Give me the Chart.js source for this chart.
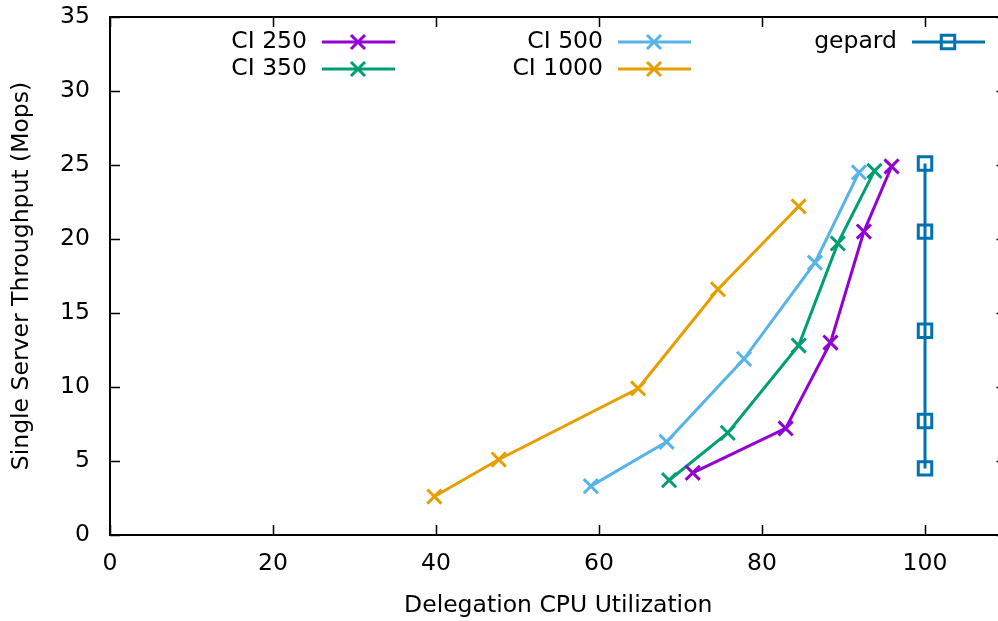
<!DOCTYPE html>
<html>
<head>
<meta charset="utf-8">
<script src="https://cdn.jsdelivr.net/npm/chart.js@4.4.0/dist/chart.umd.min.js"></script>
<style>
  html, body { margin: 0; padding: 0; overflow: hidden; background: #fff; }
  canvas { position: absolute; left: 0; top: 0; }
</style>
</head>
<body>
<canvas id="chart" width="1010" height="621"></canvas>
<script>
// data
const ci250X = [71.5, 82.9, 88.4, 92.5, 95.9];
const ci250Y = [4.2, 7.2, 13.0, 20.5, 24.9];
const ci350X = [68.6, 75.8, 84.5, 89.3, 93.8];
const ci350Y = [3.7, 6.9, 12.8, 19.7, 24.6];
const ci500X = [59.0, 68.3, 77.8, 86.5, 91.9];
const ci500Y = [3.3, 6.3, 11.9, 18.4, 24.5];
const ci1000X = [39.8, 47.7, 64.8, 74.6, 84.5];
const ci1000Y = [2.6, 5.1, 9.9, 16.6, 22.2];
const gepardX = [100, 100, 100, 100, 100];
const gepardY = [4.5, 7.7, 13.8, 20.5, 25.1];

const xTicks = [0, 20, 40, 60, 80, 100];
const yTicks = [0, 5, 10, 15, 20, 25, 30, 35];

const FONT = "'DejaVu Sans', sans-serif";
const FSIZE = 23.5;

function pts(xs, ys) {
  return xs.map((x, i) => ({ x: x, y: ys[i] }));
}

function series(label, xs, ys, color, style) {
  return {
    label: label,
    data: pts(xs, ys),
    borderColor: color,
    backgroundColor: "transparent",
    borderWidth: 3,
    pointStyle: style,
    pointRadius: style === "rect" ? 9.5 : 10,
    pointBorderWidth: 3,
    pointBorderColor: color,
    pointBackgroundColor: "transparent",
    tension: 0,
  };
}

// legend slots like the gnuplot key: [text right edge, row y]
const legendSlots = [
  [307, 42], [307, 69], [603, 42], [603, 69], [897, 42]
];

function drawMarker(ctx, style, x, y, color) {
  ctx.save();
  ctx.strokeStyle = color;
  ctx.lineWidth = 3;
  ctx.beginPath();
  if (style === "rect") {
    ctx.rect(x - 6.7, y - 6.7, 13.4, 13.4);
  } else {
    const d = 7;
    ctx.moveTo(x - d, y - d); ctx.lineTo(x + d, y + d);
    ctx.moveTo(x + d, y - d); ctx.lineTo(x - d, y + d);
  }
  ctx.stroke();
  ctx.restore();
}

const framePlugin = {
  id: "frame",
  afterDatasetsDraw(chart) {
    const ctx = chart.ctx;
    const a = chart.chartArea;
    const xs = chart.scales.x, ys = chart.scales.y;
    ctx.save();
    ctx.strokeStyle = "#000";
    ctx.lineWidth = 2;
    ctx.strokeRect(a.left, a.top, a.right - a.left, a.bottom - a.top);
    ctx.lineWidth = 1.5;
    ctx.beginPath();
    xTicks.forEach(v => {
      const px = Math.round(xs.getPixelForValue(v)) + 0.5;
      ctx.moveTo(px, a.bottom); ctx.lineTo(px, a.bottom - 10);
      ctx.moveTo(px, a.top); ctx.lineTo(px, a.top + 10);
    });
    yTicks.forEach(v => {
      const py = Math.round(ys.getPixelForValue(v)) + 0.5;
      ctx.moveTo(a.left, py); ctx.lineTo(a.left + 10, py);
      ctx.moveTo(a.right, py); ctx.lineTo(a.right - 10, py);
    });
    ctx.stroke();

    // key
    ctx.font = FSIZE + "px " + FONT;
    ctx.fillStyle = "#000";
    ctx.textAlign = "right";
    ctx.textBaseline = "middle";
    chart.data.datasets.forEach((ds, i) => {
      const [tx, ty] = legendSlots[i];
      ctx.fillText(ds.label, tx, ty);
      ctx.strokeStyle = ds.borderColor;
      ctx.lineWidth = 3;
      ctx.beginPath();
      ctx.moveTo(tx + 15, ty); ctx.lineTo(tx + 88, ty);
      ctx.stroke();
      drawMarker(ctx, ds.pointStyle, tx + 51, ty, ds.borderColor);
    });
    ctx.restore();
  },
};

new Chart(document.getElementById("chart").getContext("2d"), {
  type: "line",
  data: {
    datasets: [
      series("CI 250", ci250X, ci250Y, "#9400d3", "crossRot"),
      series("CI 350", ci350X, ci350Y, "#009e73", "crossRot"),
      series("CI 500", ci500X, ci500Y, "#56b4e9", "crossRot"),
      series("CI 1000", ci1000X, ci1000Y, "#e69f00", "crossRot"),
      series("gepard", gepardX, gepardY, "#0072b2", "rect"),
    ],
  },
  options: {
    responsive: false,
    animation: false,
    layout: { autoPadding: false, padding: { top: 17, right: 3.5, left: 0, bottom: 0 } },
    plugins: { legend: { display: false }, tooltip: { enabled: false } },
    scales: {
      x: {
        type: "linear",
        min: 0,
        max: 110,
        afterBuildTicks: s => { s.ticks = xTicks.map(v => ({ value: v })); },
        afterFit: s => { s.height = 86; s.paddingLeft = 0; s.paddingRight = 0; },
        grid: { display: false, drawTicks: false },
        border: { display: false },
        ticks: { color: "#000", font: { family: FONT, size: FSIZE }, padding: 15, maxRotation: 0 },
        title: {
          display: true,
          text: "Delegation CPU Utilization",
          color: "#000",
          font: { family: FONT, size: FSIZE },
          padding: { top: 0, bottom: 1 },
        },
      },
      y: {
        min: 0,
        max: 35,
        afterBuildTicks: s => { s.ticks = yTicks.map(v => ({ value: v })); },
        afterFit: s => { s.width = 110; s.paddingTop = 0; s.paddingBottom = 0; },
        grid: { display: false, drawTicks: false },
        border: { display: false },
        ticks: { color: "#000", font: { family: FONT, size: FSIZE }, padding: 20 },
        title: {
          display: true,
          text: "Single Server Throughput (Mops)",
          color: "#000",
          font: { family: FONT, size: FSIZE },
          padding: { top: 8, bottom: 0 },
        },
      },
    },
  },
  plugins: [framePlugin],
});
</script>
</body>
</html>
